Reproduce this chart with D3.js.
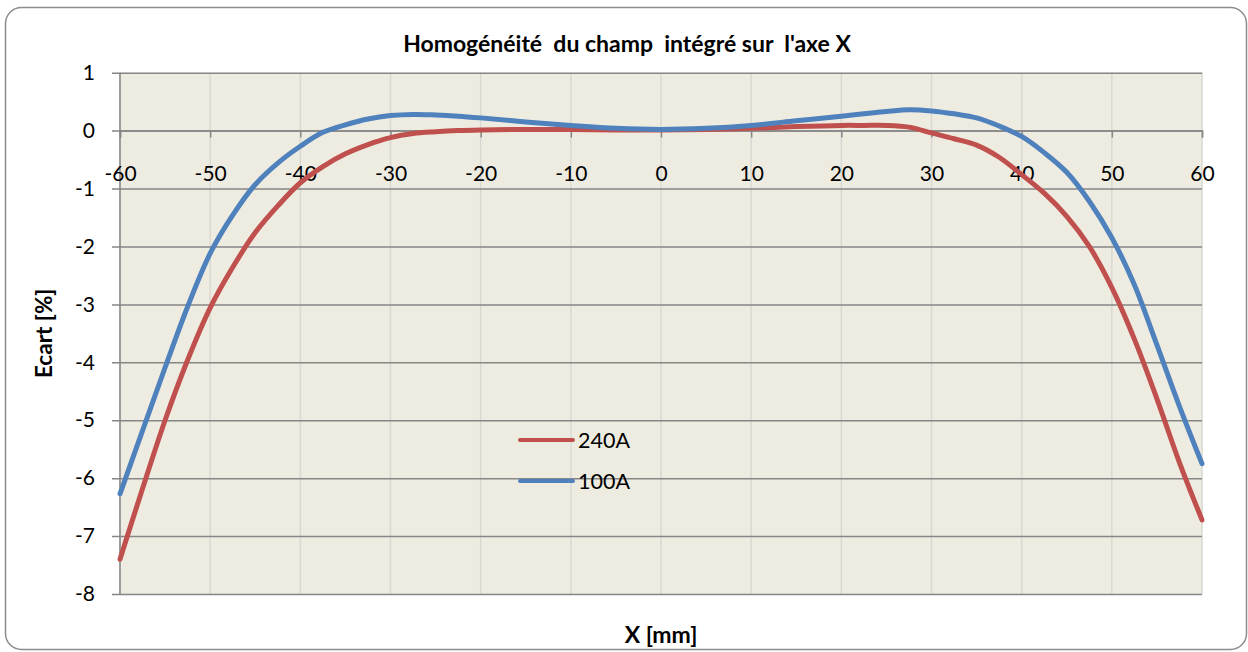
<!DOCTYPE html>
<html>
<head>
<meta charset="utf-8">
<script src="https://cdn.jsdelivr.net/npm/d3@7"></script>
<style>
  body { margin: 0; background: #fff; }
  text { font-family: Lato, "Open Sans", sans-serif; fill: #000; }
</style>
</head>
<body>
<div class="chartHolder"></div>
<script>
// X positions in mm
var xValues = [-60, -57.5, -55, -52.5, -50, -47.5, -45, -42.5, -40, -37.5, -35, -32.5, -30, -27.5, -25, -22.5,
  -20, -15, -10, -5, 0, 5, 10, 15, 20, 22.5, 25, 27.5, 30, 32.5, 35, 37.5, 40, 42.5, 45, 47.5, 50, 52.5, 55, 57.5, 60];

// Ecart [%]
var ecart240 = [-7.4, -6.18, -5.0, -3.96, -3.06, -2.36, -1.76, -1.3, -0.9, -0.62, -0.4, -0.24, -0.12, -0.05, -0.02, 0.0,
  0.01, 0.02, 0.02, 0.01, 0.01, 0.02, 0.04, 0.07, 0.09, 0.09, 0.09, 0.06, -0.04, -0.14, -0.25, -0.46, -0.76, -1.08, -1.48, -2.0, -2.71, -3.6, -4.63, -5.73, -6.72];

var ecart100 = [-6.27, -5.18, -4.09, -3.04, -2.12, -1.46, -0.93, -0.56, -0.27, -0.03, 0.1, 0.2, 0.26, 0.28, 0.27, 0.25,
  0.22, 0.15, 0.09, 0.04, 0.02, 0.04, 0.09, 0.17, 0.25, 0.29, 0.33, 0.36, 0.34, 0.29, 0.22, 0.08, -0.1, -0.38, -0.72, -1.22, -1.85, -2.66, -3.7, -4.76, -5.75];

var seriesNames = ["240A", "100A"];
var seriesColors = ["#C0504D", "#4F81BD"];
var xTicks = [-60, -50, -40, -30, -20, -10, 0, 10, 20, 30, 40, 50, 60];
var yTicks = [1, 0, -1, -2, -3, -4, -5, -6, -7, -8];

var svgW = 1248, svgH = 652;
var margin = { top: 72.7, right: 46, bottom: 58, left: 120 },
    w = svgW - margin.left - margin.right,
    h = svgH - margin.top - margin.bottom;

var fmt = function (d) { return String(d); };  // plain hyphen for negatives

var svg = d3.select(".chartHolder").append("svg").attr("width", svgW).attr("height", svgH);

// outer frame
svg.append("rect").attr("x", 5.5).attr("y", 7.5).attr("width", 1241).attr("height", 642)
  .attr("rx", 16).attr("ry", 16).attr("fill", "#fff").attr("stroke", "#8c8c8c").attr("stroke-width", 1.5);

var xScale = d3.scaleLinear().domain([-60, 60]).range([0, w]);
var yScale = d3.scaleLinear().domain([-8, 1]).range([h, 0]);

var g = svg.append("g").attr("transform", "translate(" + margin.left + "," + margin.top + ")");

g.append("rect").attr("width", w).attr("height", h).attr("fill", "#EEECE1");

// vertical grid
g.selectAll(".vgrid").data(xTicks).enter().append("line").attr("class", "vgrid")
  .attr("x1", function (d) { return xScale(d); }).attr("x2", function (d) { return xScale(d); })
  .attr("y1", 0).attr("y2", h).attr("stroke", "#d9d8d2").attr("stroke-width", 1.5);

// horizontal grid (y axis)
var yAxis = d3.axisLeft(yScale).tickValues(yTicks).tickSize(-w).tickPadding(25).tickFormat(fmt);
var yG = g.append("g").call(yAxis);
yG.select(".domain").remove();
yG.selectAll(".tick line").attr("stroke", "#868686").attr("stroke-width", 1.5).attr("x1", -8);
yG.selectAll(".tick text").attr("font-size", 21).style("font-family", "Lato");

g.append("line").attr("x1", 0).attr("x2", 0).attr("y1", 0).attr("y2", h)
  .attr("stroke", "#868686").attr("stroke-width", 1.5);

// x axis at y = 0
var xAxis = d3.axisBottom(xScale).tickValues(xTicks).tickSize(7).tickPadding(28).tickFormat(fmt);
var xG = g.append("g").attr("transform", "translate(0," + yScale(0) + ")").call(xAxis);
xG.select(".domain").attr("stroke", "#868686").attr("stroke-width", 1.5);
xG.selectAll(".tick line").attr("stroke", "#868686").attr("stroke-width", 1.5);
xG.selectAll(".tick text").attr("font-size", 21).style("font-family", "Lato");

// lines
var line = d3.line().curve(d3.curveCatmullRom.alpha(0.5))
  .x(function (d) { return xScale(d[0]); })
  .y(function (d) { return yScale(d[1]); });

[ecart240, ecart100].forEach(function (vals, i) {
  var pts = xValues.map(function (x, j) { return [x, vals[j]]; });
  g.append("path").datum(pts).attr("d", line).attr("fill", "none")
    .attr("stroke", seriesColors[i]).attr("stroke-width", 5).attr("stroke-linecap", "round");
});

// legend
var legend = svg.append("g").attr("transform", "translate(520,440)");
seriesNames.forEach(function (name, i) {
  var row = legend.append("g").attr("transform", "translate(0," + i * 41 + ")");
  row.append("line").attr("x1", 0).attr("x2", 53).attr("stroke", seriesColors[i])
    .attr("stroke-width", 4).attr("stroke-linecap", "round");
  row.append("text").attr("x", 58).attr("y", 8).attr("font-size", 21.5).text(name);
});

// titles
svg.append("text").attr("x", 627).attr("y", 52).attr("text-anchor", "middle")
  .attr("font-size", 23).attr("font-weight", "bold").style("white-space", "pre")
  .text("Homogénéité  du champ  intégré sur  l'axe X");

svg.append("text").attr("x", 661).attr("y", 643).attr("text-anchor", "middle")
  .attr("font-size", 23).attr("font-weight", "bold").text("X [mm]");

svg.append("text").attr("transform", "translate(52," + (margin.top + h / 2) + ") rotate(-90)")
  .attr("text-anchor", "middle").attr("font-size", 22.5).attr("font-weight", "bold").text("Ecart [%]");
</script>
</body>
</html>
